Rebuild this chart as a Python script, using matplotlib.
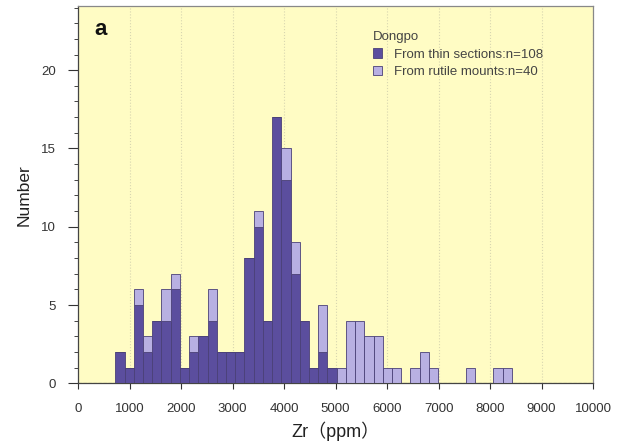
import matplotlib
matplotlib.use("Agg")
import matplotlib.pyplot as plt
import numpy as np
from matplotlib.patches import Patch
from matplotlib.ticker import MultipleLocator

plt.rcParams["font.family"] = ["Liberation Sans", "Noto Sans CJK SC", "DejaVu Sans"]

# histogram bins (ppm): first left edge and bin width
bin_start = 725
bin_width = 179

# counts per bin, from thin sections (dark) and rutile mounts (light)
thin_counts = [2, 1, 5, 2, 4, 4, 6, 1, 2, 3, 4, 2, 2, 2, 8, 10, 4, 17, 13, 7, 4, 1,
               2, 1, 0, 0, 0, 0, 0, 0, 0, 0, 0, 0, 0, 0, 0, 0, 0, 0, 0, 0, 0]
mount_counts = [0, 0, 1, 1, 0, 2, 1, 0, 1, 0, 2, 0, 0, 0, 0, 1, 0, 0, 2, 2, 0, 0,
                3, 0, 1, 4, 4, 3, 3, 1, 1, 0, 1, 2, 1, 0, 0, 0, 1, 0, 0, 1, 1]

thin_label = "From thin sections:n=108"
mount_label = "From rutile mounts:n=40"

dark = "#5b4e9e"
light = "#b8b0e2"
edge = "#4a4078"
bg = "#fffcc4"

thin = np.array(thin_counts)
mount = np.array(mount_counts)
lefts = bin_start + bin_width * np.arange(len(thin))

fig = plt.figure(figsize=(6.23, 4.45), dpi=100)
ax = fig.add_axes([0.1252, 0.1386, 0.8268, 0.848])
ax.set_facecolor(bg)

ax.bar(lefts, thin, width=bin_width, align="edge", color=dark,
       edgecolor=edge, linewidth=0.6, zorder=3)
ax.bar(lefts, mount, width=bin_width, bottom=thin, align="edge", color=light,
       edgecolor=edge, linewidth=0.6, zorder=3)

ax.axhline(0, color="#666", lw=0.8, ls=(0, (3, 1.5)), zorder=4)

ax.set_xlim(0, 10000)
ax.set_ylim(0, 24.1)
ax.xaxis.set_major_locator(MultipleLocator(1000))
ax.yaxis.set_major_locator(MultipleLocator(5))
ax.yaxis.set_minor_locator(MultipleLocator(1))
ax.grid(axis="x", color="#d8d6b0", lw=0.8, ls=":", zorder=1)

for s in ax.spines.values():
    s.set_color("#888")
    s.set_linewidth(0.9)
ax.spines["left"].set_color("#444")
ax.spines["bottom"].set_color("#444")

ax.tick_params(axis="both", labelsize=9.5, colors="#333", length=4, width=0.8)
ax.tick_params(axis="y", which="major", length=7, pad=9)
ax.tick_params(axis="y", which="minor", length=3, width=0.7, colors="#444")
ax.tick_params(axis="x", pad=10)

ax.set_xlabel("Zr（ppm）", fontsize=13, color="#222", labelpad=5)
ax.set_ylabel("Number", fontsize=12.5, color="#222", labelpad=7)

ax.text(0.032, 0.965, "a", transform=ax.transAxes, fontsize=16,
        fontweight="bold", va="top", ha="left", color="#111")

handles = [Patch(facecolor=dark, edgecolor=edge, lw=0.6),
           Patch(facecolor=light, edgecolor=edge, lw=0.6)]
leg = ax.legend(handles, [thin_label, mount_label], title="Dongpo",
                loc="upper left", bbox_to_anchor=(0.55, 0.965), frameon=False,
                fontsize=9.5, title_fontsize=9.5, handlelength=0.7,
                handleheight=0.7, handletextpad=0.9, labelspacing=0.4,
                alignment="left")
for t in leg.get_texts():
    t.set_color("#444")
leg.get_title().set_color("#444")

fig.savefig("out.png", dpi=100, facecolor="white")
